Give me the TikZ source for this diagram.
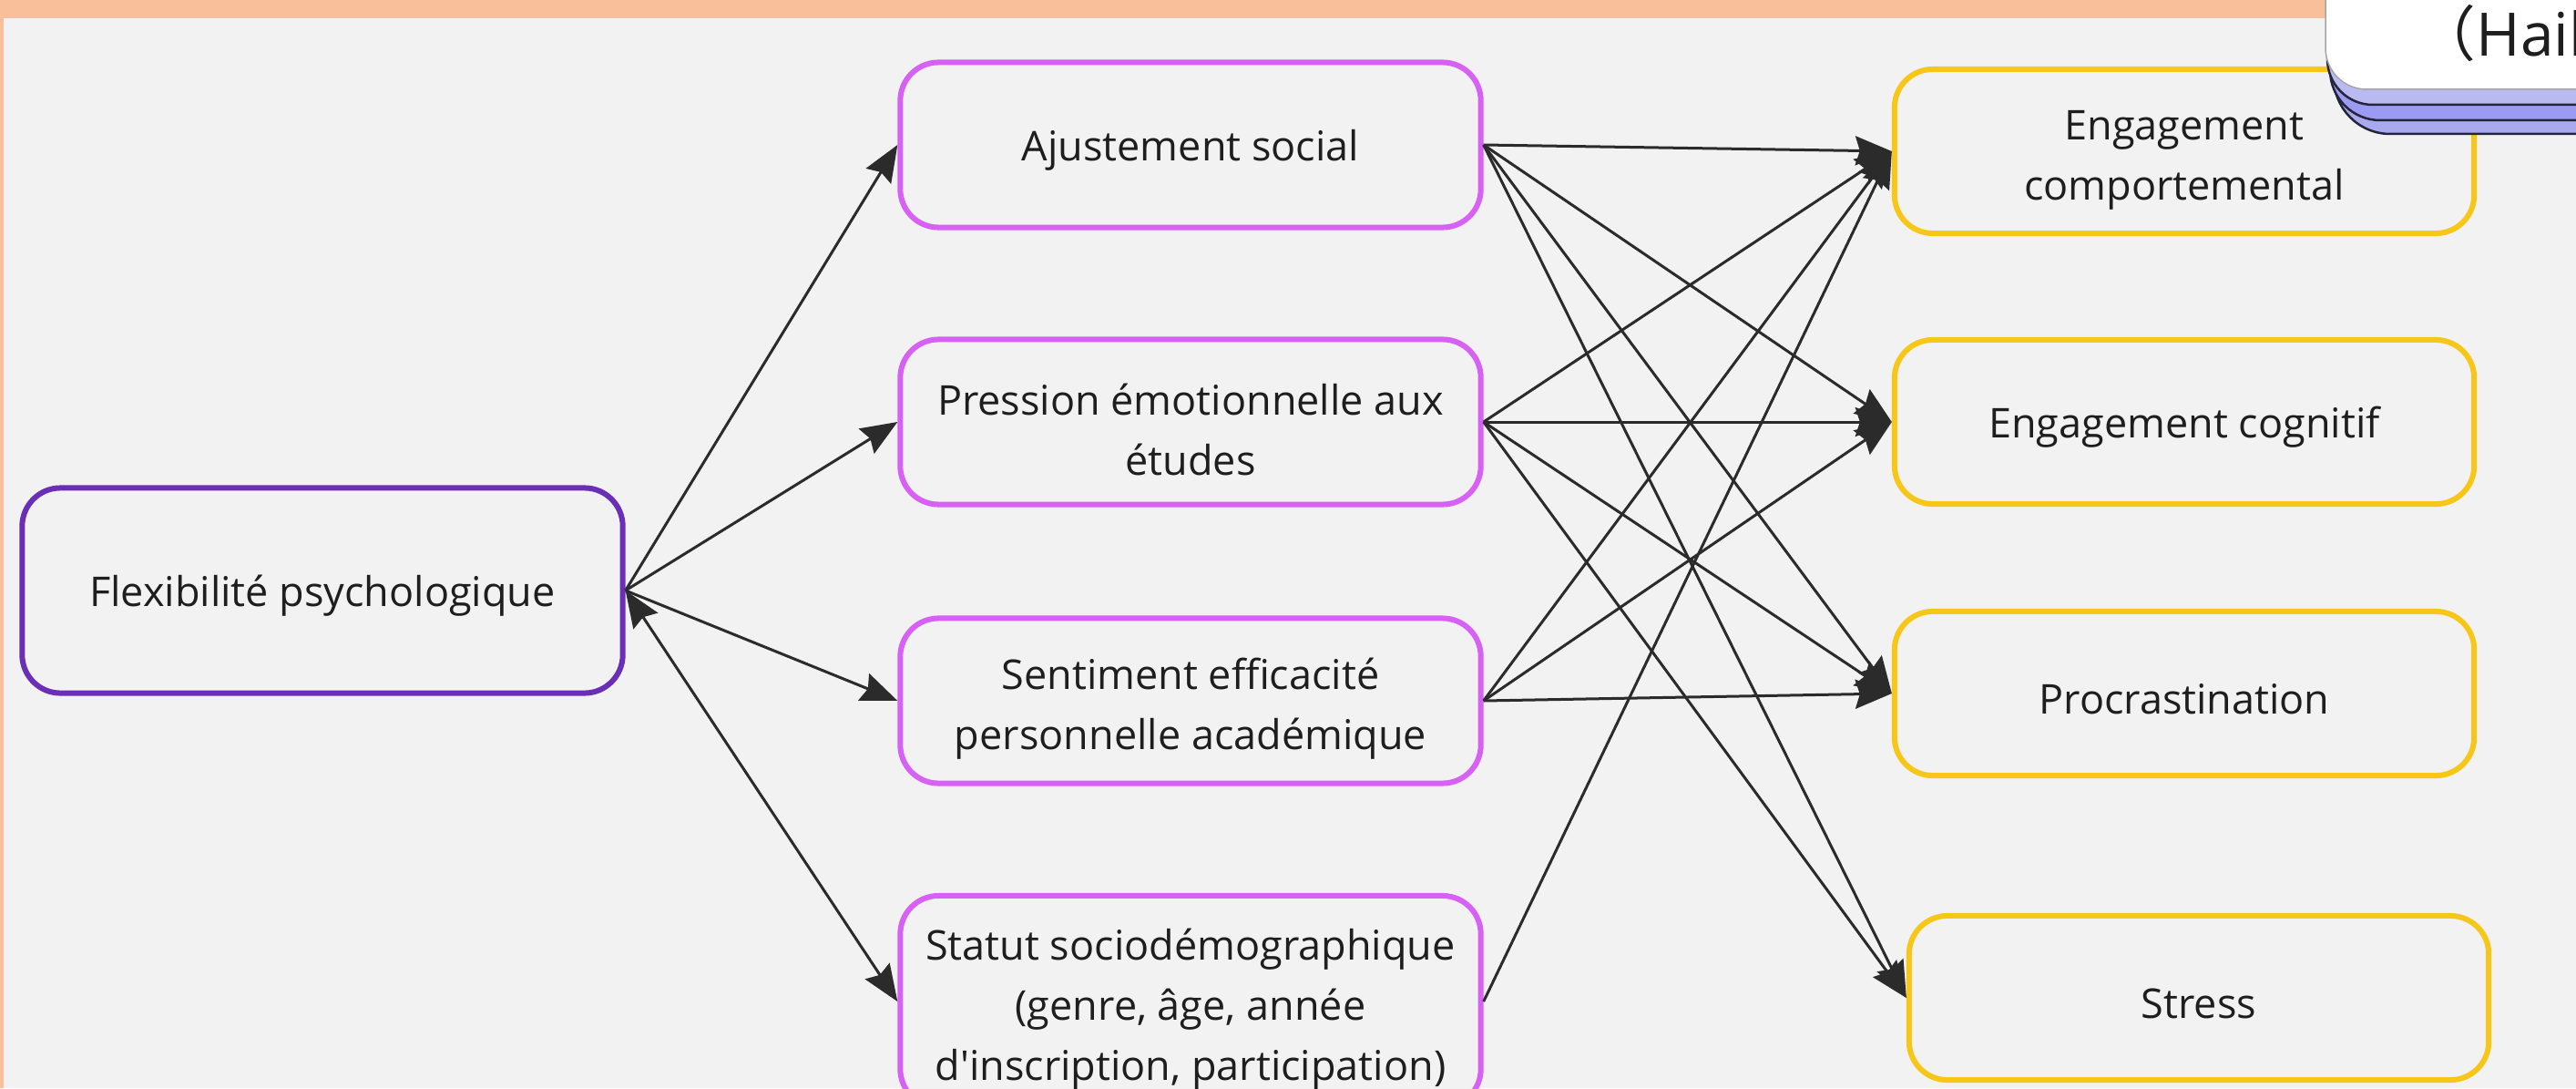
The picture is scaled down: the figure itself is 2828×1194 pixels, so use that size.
\documentclass[tikz,border=0pt]{standalone}
\usepackage{fontspec}
\setmainfont{Open Sans}[Ligatures=TeXOff]
\newfontfamily\cjkfont{Noto Sans CJK SC}
\usetikzlibrary{arrows.meta}
\definecolor{bgcol}{HTML}{F2F2F2}
\definecolor{barcol}{HTML}{F8BF9A}
\definecolor{flexcol}{HTML}{6A2FB6}
\definecolor{midcol}{HTML}{D760F5}
\definecolor{outcol}{HTML}{F6C619}
\definecolor{linkcol}{HTML}{2B2B2B}
\definecolor{txtcol}{HTML}{1E1E1E}
\definecolor{stackcol}{HTML}{A9A9F0}
\definecolor{stackline}{HTML}{24243A}
\newcommand{\lowerfirst}{\rule{0pt}{0.52cm}}

\begin{document}
\begin{tikzpicture}[x=0.01cm,y=-0.01cm,
   box/.style={rectangle,rounded corners=0.42cm,line width=0.06cm,fill=bgcol,
     align=center,text=txtcol,inner sep=0pt,font=\fontsize{12.8}{18.8}\selectfont,
     execute at begin node={\rule{0pt}{0.45cm}}},
   flexbox/.style={box,draw=flexcol,minimum width=6.59cm,minimum height=2.25cm},
   midbox/.style={box,draw=midcol,minimum width=6.37cm,minimum height=1.81cm},
   outbox/.style={box,draw=outcol,minimum width=6.36cm,minimum height=1.80cm},
   link/.style={draw=linkcol,line width=0.03cm,-{Stealth[length=0.4cm,width=0.32cm,inset=0.05cm]}},
   bilink/.style={link,{Stealth[length=0.4cm,width=0.32cm,inset=0.05cm]}-{Stealth[length=0.4cm,width=0.32cm,inset=0.05cm]}}]

   % background and frame
   \fill[bgcol] (0,0) rectangle (2828,1194);
   \fill[barcol] (0,0) rectangle (2828,20);
   \fill[barcol] (0,0) rectangle (4,1194);
   \useasboundingbox (0,0) rectangle (2828,1194);

   % boxes
   \node[flexbox] (flex) at (354,648) {Flexibilité psychologique};

   \node[midbox] (ajust) at (1307,159) {Ajustement social};
   \node[midbox] (press) at (1307,463) {\lowerfirst Pression émotionnelle aux\\études};
   \node[midbox] (senti) at (1307,769) {\lowerfirst Sentiment efficacité\\personnelle académique};
   \node[midbox,minimum height=2.32cm] (statut) at (1307,1099) {\lowerfirst Statut sociodémographique\\(genre, âge, année\\d'inscription, participation)};

   \node[outbox] (ecomp) at (2398,166) {\lowerfirst Engagement\\comportemental};
   \node[outbox] (ecog) at (2398,463) {Engagement cognitif};
   \node[outbox] (procr) at (2398,761) {Procrastination};
   \node[outbox] (stress) at (2414,1095) {Stress};

   % left links
   \draw[link] (flex.east) -- (ajust.west);
   \draw[link] (flex.east) -- (press.west);
   \draw[link] (flex.east) -- (senti.west);
   \draw[bilink] (flex.east) -- (statut.west);

   % right links
   \draw[link] (ajust.east) -- (ecomp.west);
   \draw[link] (ajust.east) -- (ecog.west);
   \draw[link] (ajust.east) -- (procr.west);
   \draw[link] (ajust.east) -- (stress.west);
   \draw[link] (press.east) -- (ecomp.west);
   \draw[link] (press.east) -- (ecog.west);
   \draw[link] (press.east) -- (procr.west);
   \draw[link] (press.east) -- (stress.west);
   \draw[link] (senti.east) -- (ecomp.west);
   \draw[link] (senti.east) -- (ecog.west);
   \draw[link] (senti.east) -- (procr.west);
   \draw[link] (statut.east) -- (ecomp.west);

   % card in the corner
   \draw[fill=stackcol,draw=stackline,line width=0.025cm,rounded corners=0.62cm] (2562,-100) rectangle (3000,147);
   \draw[fill=stackcol!85!blue!90,draw=stackline,line width=0.025cm,rounded corners=0.55cm] (2558,-100) rectangle (3000,132);
   \draw[fill=stackcol!80!white,draw=stackline,line width=0.025cm,rounded corners=0.5cm] (2555,-100) rectangle (3000,115);
   \draw[fill=white,draw=black!35,line width=0.015cm,rounded corners=0.45cm] (2553,-100) rectangle (3000,98);
   \node[anchor=base west,inner sep=0pt,text=txtcol,font=\fontsize{18.7}{22}\selectfont] (hail) at (2652,62) {{\cjkfont （}Hail};

\end{tikzpicture}
\end{document}
